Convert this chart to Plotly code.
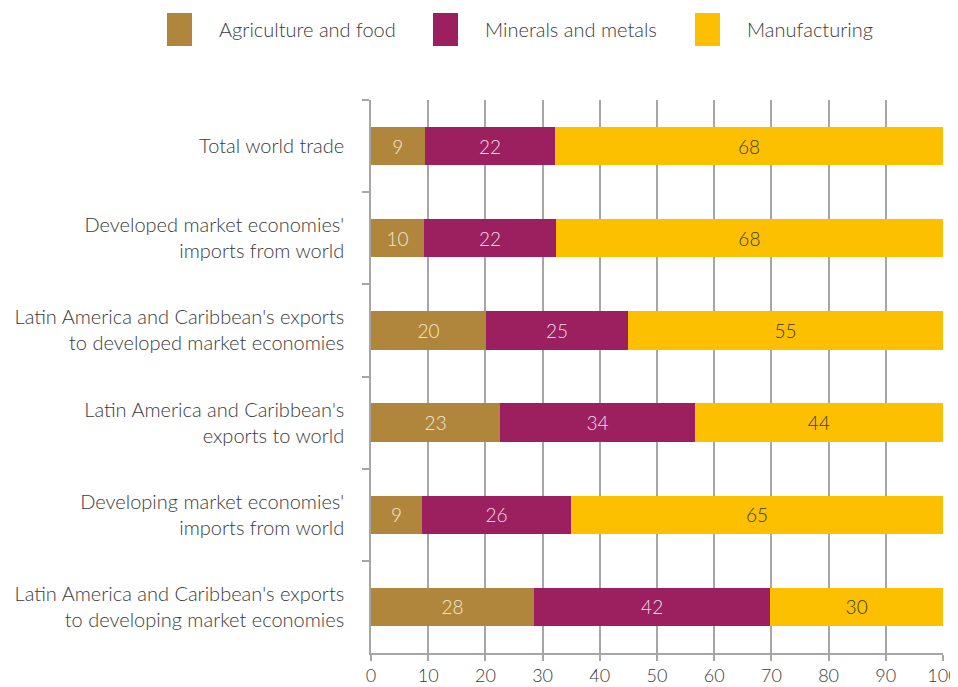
import plotly.graph_objects as go

# categories, top to bottom
categories = [
    "Total world trade",
    "Developed market economies'<br>imports from world",
    "Latin America and Caribbean's exports<br>to developed market economies",
    "Latin America and Caribbean's<br>exports to world",
    "Developing market economies'<br>imports from world",
    "Latin America and Caribbean's exports<br>to developing market economies",
]

# shares in percent
agri = [9.4, 9.3, 20.1, 22.6, 8.9, 28.5]
minerals = [22.8, 23.0, 24.8, 34.0, 26.1, 41.3]
manuf = [67.8, 67.7, 55.1, 43.4, 65.0, 30.2]

# labels printed in the bars
agri_lbl = ["9", "10", "20", "23", "9", "28"]
minerals_lbl = ["22", "22", "25", "34", "26", "42"]
manuf_lbl = ["68", "68", "55", "44", "65", "30"]

series = [
    ("Agriculture and food", agri, agri_lbl, "#B0863C", "#F2E6D2"),
    ("Minerals and metals", minerals, minerals_lbl, "#9C1F60", "#F3DDE8"),
    ("Manufacturing", manuf, manuf_lbl, "#FCC000", "#3A3A3A"),
]

FONT = "Lato"
TXT = "#3A3A3A"

# page body has an 8px margin, so the figure is a bit smaller than the window
OFF = 8
L, R, T, B = 371 - OFF, 15, 100 - OFF, 34
W, H = 958 - OFF, 687 - OFF
PW = W - L - R
PH = H - T - B

fig = go.Figure()
for name, vals, lbls, color, tcolor in series:
    fig.add_trace(go.Bar(
        y=categories, x=vals, name=name, orientation="h",
        marker=dict(color=color, line=dict(width=0)),
        text=lbls, textposition="inside", insidetextanchor="middle",
        textfont=dict(family=FONT, size=19, color=tcolor, weight=300),
        showlegend=False, hoverinfo="skip",
    ))

# legend swatches drawn manually (bigger than plotly's default symbols)
legend_x = [167, 433, 695]
for (name, vals, lbls, color, tcolor), lx in zip(series, legend_x):
    fig.add_shape(type="rect", xref="paper", yref="paper",
                  x0=(lx - 371) / PW, x1=(lx + 25 - 371) / PW,
                  y0=(100 + PH - 46) / PH, y1=(100 + PH - 13) / PH,
                  fillcolor=color, line=dict(width=0))
    fig.add_annotation(text=name, xref="paper", yref="paper",
                       x=(lx + 50 - 371) / PW, y=(100 + PH - 29) / PH,
                       xanchor="left", yanchor="middle", showarrow=False,
                       font=dict(family=FONT, size=20, color=TXT, weight=300))

fig.update_layout(
    barmode="stack",
    bargap=0.585,
    width=W, height=H,
    margin=dict(l=L, r=R, t=T, b=B, autoexpand=False),
    paper_bgcolor="white", plot_bgcolor="white",
    font=dict(family=FONT, size=20, color=TXT, weight=300),
)
fig.update_xaxes(
    range=[0, 100], dtick=10, tick0=0, automargin=False,
    ticklabeloverflow="allow",
    showgrid=True, gridcolor="#A6A6A6", gridwidth=1.5,
    showline=True, linecolor="#A6A6A6", linewidth=1.5,
    ticks="outside", ticklen=6, tickcolor="#A6A6A6", tickwidth=1.5,
    tickfont=dict(family=FONT, size=18, color=TXT, weight=300),
    zeroline=False,
)
fig.update_yaxes(
    autorange="reversed", type="category", automargin=False,
    showline=True, linecolor="#A6A6A6", linewidth=1.5,
    ticks="outside", tickson="boundaries", ticklen=7, tickcolor="#A6A6A6", tickwidth=1.5,
    ticklabelstandoff=21,
    tickfont=dict(family=FONT, size=20, color=TXT, weight=300),
    showgrid=False,
)

fig.write_html("out.html")
